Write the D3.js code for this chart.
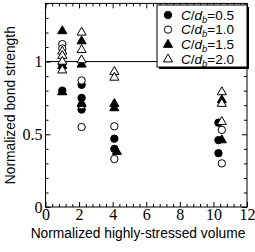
<!DOCTYPE html>
<html><head><meta charset="utf-8">
<script src="https://cdn.jsdelivr.net/npm/d3@7/dist/d3.min.js"></script>
<style>body{margin:0;background:#fff}svg{display:block}</style>
</head><body>
<svg id="c" width="255" height="252"></svg>
<script>
// ---- data ----
const seriesLabels = ["0.5", "1.0", "1.5", "2.0"];
const s05 = [[1.0,0.98],[1.0,0.80],[2.15,0.84],[2.15,0.75],[2.15,0.67],[4.1,0.47],[4.1,0.40],[10.3,0.58],[10.3,0.46],[10.3,0.37]];
const s10 = [[1.0,1.12],[1.0,1.09],[2.15,0.87],[2.15,0.70],[2.15,0.55],[4.1,0.555],[4.1,0.33],[10.5,0.53],[10.5,0.30]];
const s15 = [[1.0,1.21],[1.0,0.97],[1.0,0.79],[2.15,1.14],[2.15,0.98],[2.15,0.71],[4.1,0.71],[4.1,0.68],[4.25,0.38],[10.5,0.735],[10.5,0.46]];
const s20 = [[1.0,1.07],[1.0,1.04],[1.0,1.0],[1.0,0.94],[2.15,1.20],[2.15,1.08],[2.15,1.01],[4.1,0.93],[4.1,0.89],[10.5,0.79],[10.5,0.71],[10.5,0.585]];
const xMajor = [0,2,4,6,8,10,12];
const yMajor = [0,0.5,1];
const yMajorLabels = ["0","0.5","1"];
const refValue = 1;

const series = [
  {pts:s05, shape:"circle", fill:"#000"},
  {pts:s10, shape:"circle", fill:"#fff"},
  {pts:s15, shape:"triangle", fill:"#000"},
  {pts:s20, shape:"triangle", fill:"#fff"}
];

const svg = d3.select("#c");
const L=45.5, R=247, T=3.4, B=207;
const x = d3.scaleLinear().domain([0,12]).range([L,R]);
const y = d3.scaleLinear().domain([0,1.4]).range([B,T]);

const xMinor = d3.range(0,12.001,0.4).filter(v=>!xMajor.some(m=>Math.abs(m-v)<1e-6));
const yMinor = d3.range(0,1.4001,0.1).filter(v=>!yMajor.some(m=>Math.abs(m-v)<1e-6));

const tickFont = "'Liberation Serif','Times New Roman',serif";
function styleAxis(g){ g.select(".domain").remove(); g.selectAll("line").attr("stroke","#000").attr("stroke-width",1); }

// bottom axis
svg.append("g").attr("transform",`translate(0,${B})`)
  .call(d3.axisBottom(x).tickValues(xMajor).tickSize(-5).tickPadding(2).tickFormat(d3.format("d")))
  .call(styleAxis).call(g=>g.selectAll("text").attr("font-family",tickFont).attr("font-size",16).attr("fill","#000"));
svg.append("g").attr("transform",`translate(0,${B})`)
  .call(d3.axisBottom(x).tickValues(xMinor).tickSize(-3).tickFormat(""))
  .call(styleAxis);
// top axis
svg.append("g").attr("transform",`translate(0,${T})`)
  .call(d3.axisTop(x).tickValues(xMajor).tickSize(-5).tickFormat("")).call(styleAxis);
svg.append("g").attr("transform",`translate(0,${T})`)
  .call(d3.axisTop(x).tickValues(xMinor).tickSize(-3).tickFormat("")).call(styleAxis);
// left axis
svg.append("g").attr("transform",`translate(${L},0)`)
  .call(d3.axisLeft(y).tickValues(yMajor).tickSize(-5).tickPadding(3).tickFormat((d,i)=>yMajorLabels[i]))
  .call(styleAxis).call(g=>g.selectAll("text").attr("font-family",tickFont).attr("font-size",16).attr("fill","#000"));
svg.append("g").attr("transform",`translate(${L},0)`)
  .call(d3.axisLeft(y).tickValues(yMinor).tickSize(-3).tickFormat("")).call(styleAxis);
// right axis
svg.append("g").attr("transform",`translate(${R},0)`)
  .call(d3.axisRight(y).tickValues(yMajor).tickSize(-5).tickFormat("")).call(styleAxis);
svg.append("g").attr("transform",`translate(${R},0)`)
  .call(d3.axisRight(y).tickValues(yMinor).tickSize(-3).tickFormat("")).call(styleAxis);

// frame
svg.append("rect").attr("x",L).attr("y",T).attr("width",R-L).attr("height",B-T)
  .attr("fill","none").attr("stroke","#000").attr("stroke-width",1);

// reference line
svg.append("line").attr("x1",L).attr("x2",R).attr("y1",y(refValue)).attr("y2",y(refValue))
  .attr("stroke","#000").attr("stroke-width",1);

const tri = d3.symbol().type(d3.symbolTriangle).size(36);
function drawMarker(g, shape, fill, cx, cy){
  if(shape==="circle"){
    g.append("circle").attr("cx",cx).attr("cy",cy).attr("r",3.7)
      .attr("fill",fill).attr("stroke","#000").attr("stroke-width",1);
  } else {
    g.append("path").attr("d",tri()).attr("transform",`translate(${cx},${cy})`)
      .attr("fill",fill).attr("stroke","#000").attr("stroke-width",1);
  }
}
const pg = svg.append("g");
series.forEach(s=>{
  s.pts.forEach(p=>drawMarker(pg, s.shape, s.fill, x(p[0]), y(p[1])));
});

// legend
const lx=157, ly=5, lw=R-157, lh=62;
svg.append("rect").attr("x",lx+2).attr("y",ly+2).attr("width",lw).attr("height",lh).attr("fill","#000");
svg.append("rect").attr("x",lx).attr("y",ly).attr("width",lw).attr("height",lh)
  .attr("fill","#fff").attr("stroke","#000").attr("stroke-width",1);
const lg = svg.append("g");
const sans = "'Liberation Sans',Arial,Helvetica,sans-serif";
series.forEach((s,i)=>{
  const cy = ly+10+i*14.6;
  drawMarker(lg, s.shape, s.fill, lx+11, cy+ (s.shape==="triangle"?0.5:0));
  const t = lg.append("text").attr("x",lx+24).attr("y",cy+4.7)
    .attr("font-family",sans).attr("font-size",13.5).attr("fill","#000");
  t.append("tspan").attr("font-style","italic").text("C");
  t.append("tspan").text("/");
  t.append("tspan").attr("font-style","italic").text("d");
  t.append("tspan").attr("font-size",9.5).attr("dy",3).attr("font-style","italic").text("b");
  t.append("tspan").attr("dy",-3).text("=" + seriesLabels[i]);
});

// axis titles
svg.append("text").attr("x",138).attr("y",238).attr("text-anchor","middle")
  .attr("font-family",sans).attr("font-size",13.8).attr("fill","#000")
  .text("Normalized highly-stressed volume");
svg.append("text").attr("transform",`translate(15,${(T+B)/2}) rotate(-90)`).attr("text-anchor","middle")
  .attr("font-family",sans).attr("font-size",13.8).attr("fill","#000")
  .text("Normalized bond strength");
</script>
</body></html>
